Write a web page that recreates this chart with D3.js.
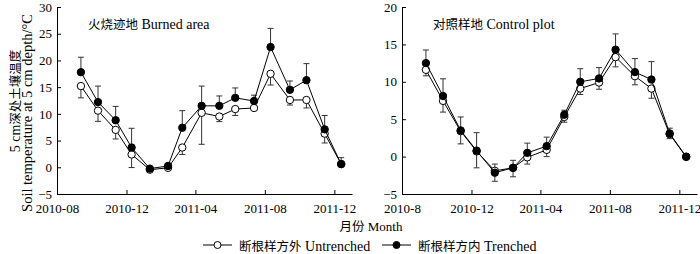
<!DOCTYPE html>
<html>
<head>
<meta charset="utf-8">
<script src="https://cdn.jsdelivr.net/npm/d3@7"></script>
<style>
  body { margin: 0; background: #fff; }
  svg { display: block; }
  text { font-family: "Liberation Serif", "Times New Roman", "Noto Sans CJK SC", serif; fill: #000; }
</style>
</head>
<body>
<div id="chart"></div>
<script>
// sampling dates (same for both plots)
const sampleDates = ["2010-09-12", "2010-10-12", "2010-11-12", "2010-12-10", "2011-01-11", "2011-02-12",
  "2011-03-09", "2011-04-12", "2011-05-13", "2011-06-10", "2011-07-13", "2011-08-11",
  "2011-09-14", "2011-10-13", "2011-11-14", "2011-12-13"];

// burned area
const burnedUntrenched    = [15.2, 10.6, 7.0, 2.4, -0.45, -0.1, 3.7, 10.2, 9.5, 10.9, 11.1, 17.5, 12.6, 12.6, 6.3, 0.6];
const burnedUntrenchedErr = [2.2, 2.0, 1.7, 2.45, 0.3, 0.3, 1.3, 5.9, 0.95, 1.2, 0.3, 2.1, 0.95, 1.5, 1.75, 0.3];
const burnedTrenched      = [17.8, 12.2, 8.8, 3.7, -0.25, 0.25, 7.4, 11.5, 11.5, 13.0, 12.4, 22.5, 14.5, 16.3, 7.1, 0.6];
const burnedTrenchedErr   = [2.8, 3.0, 2.6, 3.6, 0.3, 0.3, 3.2, 3.7, 1.85, 1.85, 1.1, 3.5, 1.65, 3.1, 2.6, 1.2];

// control plot
const controlUntrenched    = [11.6, 7.45, 3.4, 0.7, -1.9, -1.5, -0.1, 0.9, 5.3, 9.1, 9.9, 13.3, 10.75, 9.1, 3.0, -0.05];
const controlUntrenchedErr = [0.8, 1.5, 1.7, 2.2, 1.4, 1.2, 0.9, 0.9, 0.7, 0.8, 0.9, 1.3, 1.15, 1.3, 0.6, 0.2];
const controlTrenched      = [12.5, 8.1, 3.5, 0.8, -2.15, -1.5, 0.5, 1.4, 5.6, 10.0, 10.45, 14.3, 11.3, 10.3, 3.1, 0.0];
const controlTrenchedErr   = [1.75, 2.3, 1.8, 2.4, 1.15, 1.0, 1.3, 1.2, 0.6, 1.75, 1.45, 2.1, 1.8, 2.4, 0.7, 0.2];

const tickDates = ["2010-08-01", "2010-12-01", "2011-04-01", "2011-08-01", "2011-12-01"];
const burnedTickLabels  = ["2010-08", "2010-12", "2011-04", "2011-08", "2011-12"];
const controlTickLabels = ["2010-8", "2010-12", "2011-04", "2011-08", "2011-12"];

const parse = d3.timeParse("%Y-%m-%d");
const W = 700, H = 254;
const CJK = 12.5; // Chinese glyphs look a bit smaller than the Latin ones

const svg = d3.select("#chart").append("svg")
  .attr("width", W)
  .attr("height", H);

// text made of [string, font-size] parts
function mixed(t, parts) {
  parts.forEach(p => t.append("tspan").attr("font-size", p[1]).text(p[0]));
  return t;
}

function panel(opts) {
  const x = d3.scaleTime()
    .domain([parse("2010-08-01"), parse("2012-01-01")])
    .range([opts.left, opts.left + 295]);
  const y = d3.scaleLinear()
    .domain(opts.yDomain)
    .range([194, 7]);

  const g = svg.append("g");

  // axes
  const yTicks = d3.range(opts.yDomain[0], opts.yDomain[1] + 1, 5);
  g.append("g")
    .attr("transform", `translate(${opts.left},0)`)
    .call(d3.axisLeft(y).tickValues(yTicks).tickSizeInner(-4).tickSizeOuter(0).tickPadding(5)
      .tickFormat(d => d < 0 ? "\u2212" + Math.abs(d) : d))
    .call(a => a.selectAll("text").attr("font-size", 13).attr("font-family", null))
    .call(a => a.selectAll("line,path").attr("stroke", "#000"));

  const xTicks = tickDates.map(parse);
  g.append("g")
    .attr("transform", "translate(0,194)")
    .call(d3.axisBottom(x).tickValues(xTicks).tickSizeInner(-4).tickSizeOuter(0).tickPadding(10)
      .tickFormat((d, i) => opts.tickLabels[i]))
    .call(a => a.selectAll("text").attr("font-size", 13).attr("font-family", null))
    .call(a => a.selectAll("line,path").attr("stroke", "#000"));

  // panel title
  mixed(g.append("text").attr("x", opts.titleX).attr("y", 29), opts.title);

  const dates = sampleDates.map(parse);
  const line = d3.line()
    .x((d, i) => x(dates[i]))
    .y(d => y(d));

  // error bars: trenched upward, untrenched downward
  function bars(vals, errs, dir) {
    const eb = g.append("g").attr("stroke", "#333").attr("stroke-width", 1);
    vals.forEach((v, i) => {
      const cx = x(dates[i]);
      const ye = y(v + dir * errs[i]);
      eb.append("line").attr("x1", cx).attr("x2", cx).attr("y1", y(v)).attr("y2", ye);
      eb.append("line").attr("x1", cx - 3).attr("x2", cx + 3).attr("y1", ye).attr("y2", ye);
    });
  }
  bars(opts.untrenched, opts.untrenchedErr, -1);
  bars(opts.trenched, opts.trenchedErr, 1);

  function series(vals, fill) {
    g.append("path")
      .datum(vals)
      .attr("fill", "none")
      .attr("stroke", "#000")
      .attr("stroke-width", 1)
      .attr("d", line);
    g.append("g")
      .selectAll("circle")
      .data(vals)
      .join("circle")
        .attr("cx", (d, i) => x(dates[i]))
        .attr("cy", d => y(d))
        .attr("r", 3.7)
        .attr("fill", fill)
        .attr("stroke", "#000")
        .attr("stroke-width", 1);
  }
  series(opts.untrenched, "#fff");
  series(opts.trenched, "#000");
}

panel({
  left: 57, yDomain: [-5, 30], tickLabels: burnedTickLabels,
  title: [["火烧迹地", CJK], [" Burned area", 14]], titleX: 88,
  untrenched: burnedUntrenched, untrenchedErr: burnedUntrenchedErr,
  trenched: burnedTrenched, trenchedErr: burnedTrenchedErr
});

panel({
  left: 402, yDomain: [-5, 20], tickLabels: controlTickLabels,
  title: [["对照样地", CJK], [" Control plot", 14]], titleX: 433,
  untrenched: controlUntrenched, untrenchedErr: controlUntrenchedErr,
  trenched: controlTrenched, trenchedErr: controlTrenchedErr
});

// y axis title (two lines)
mixed(svg.append("text")
  .attr("transform", "translate(14,101) rotate(-90)")
  .attr("text-anchor", "middle")
  .attr("dy", "0.35em"), [["5 cm", 14], ["深处土壤温度", CJK]]);
svg.append("text")
  .attr("transform", "translate(27,113) rotate(-90)")
  .attr("text-anchor", "middle")
  .attr("dy", "0.35em")
  .attr("font-size", 14.5)
  .text("Soil temperature at 5 cm depth/°C");

// x axis title
mixed(svg.append("text")
  .attr("x", 371)
  .attr("y", 231)
  .attr("text-anchor", "middle"), [["月份", CJK], [" Month", 13]]);

// legend
const legendItems = [
  { cn: "断根样方外", en: " Untrenched", fill: "#fff", x: 203 },
  { cn: "断根样方内", en: " Trenched", fill: "#000", x: 382 }
];
const lg = svg.append("g");
legendItems.forEach(it => {
  const row = lg.append("g").attr("transform", `translate(${it.x},245)`);
  row.append("line").attr("x1", 0).attr("x2", 29).attr("stroke", "#000");
  row.append("circle").attr("cx", 14.5).attr("r", 3.5)
    .attr("fill", it.fill).attr("stroke", "#000");
  mixed(row.append("text").attr("x", 36).attr("dy", "0.35em"), [[it.cn, CJK], [it.en, 14]]);
});
</script>
</body>
</html>
